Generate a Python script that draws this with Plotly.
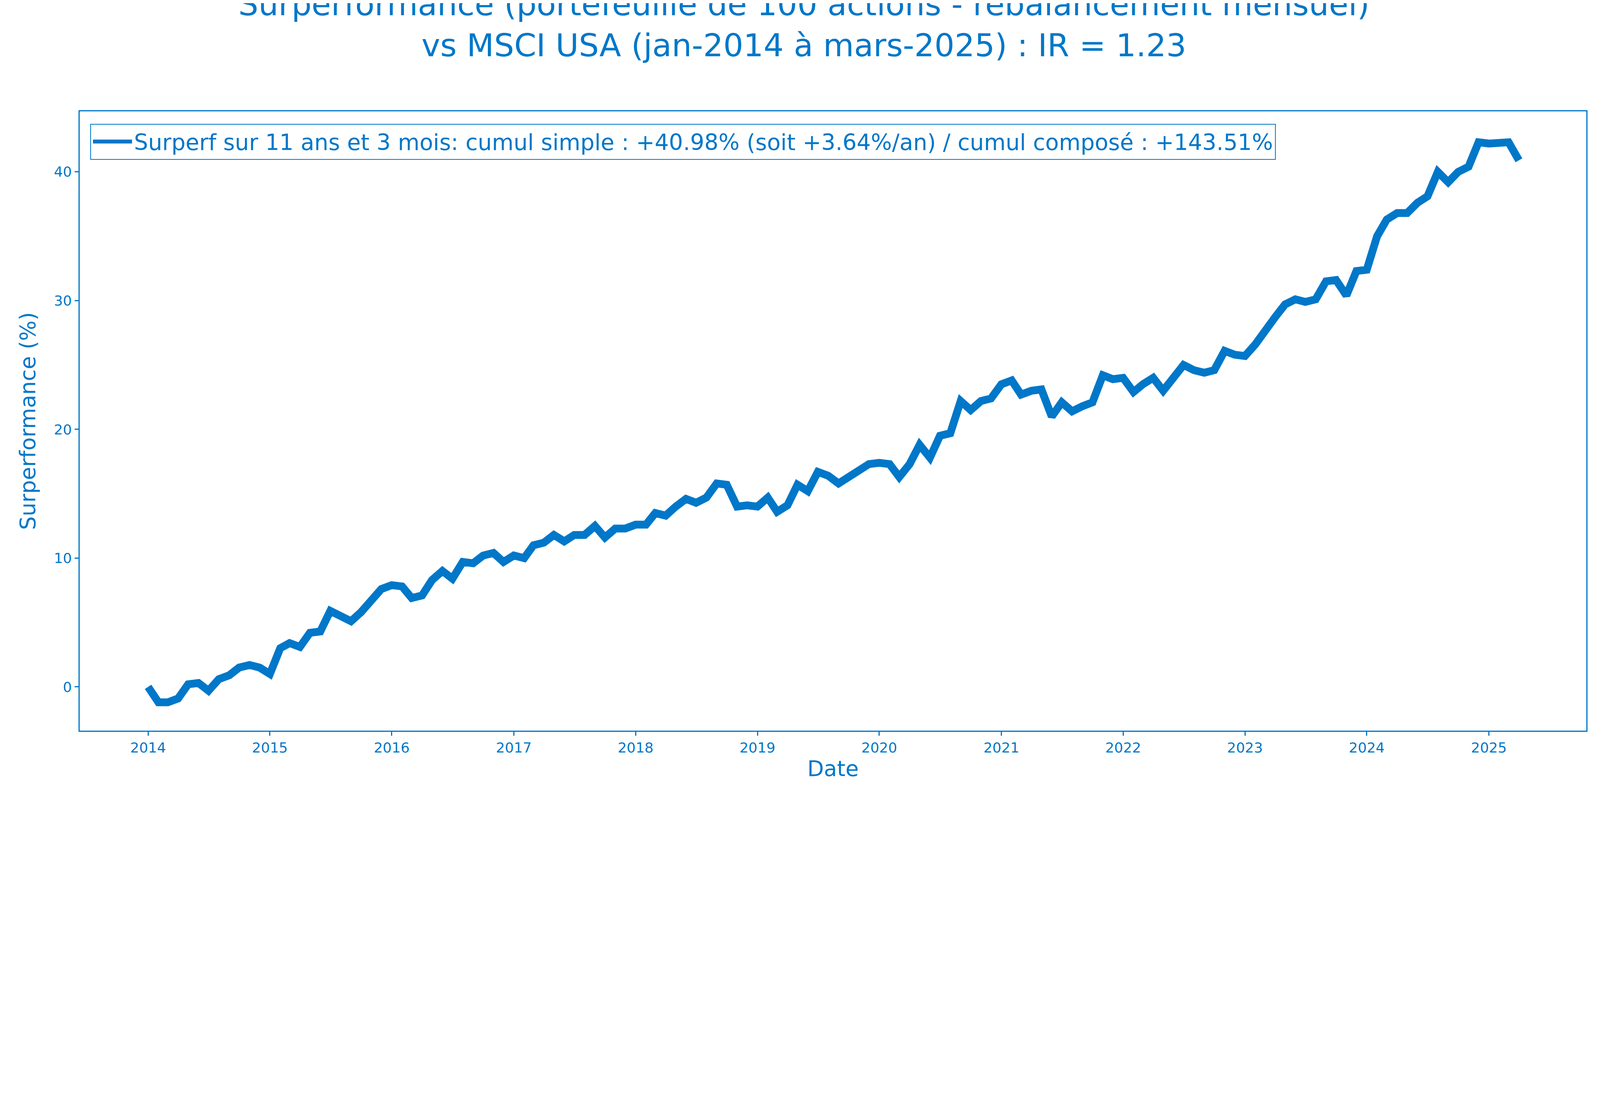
import pandas as pd
import plotly.graph_objects as go

BLUE = "#0077C8"

# Surperformance cumulée (%) - fin de mois, jan-2014 à avr-2025
surperf_2014 = [0.0, -1.2, -1.2, -0.9, 0.2, 0.3, -0.3, 0.6, 0.9, 1.5, 1.7, 1.5]
surperf_2015 = [1.0, 3.0, 3.4, 3.1, 4.2, 4.3, 5.9, 5.5, 5.1, 5.8, 6.7, 7.6]
surperf_2016 = [7.9, 7.8, 6.9, 7.1, 8.3, 9.0, 8.4, 9.7, 9.6, 10.2, 10.4, 9.7]
surperf_2017 = [10.2, 10.0, 11.0, 11.2, 11.8, 11.3, 11.8, 11.8, 12.5, 11.6, 12.3, 12.3]
surperf_2018 = [12.6, 12.6, 13.5, 13.3, 14.0, 14.6, 14.3, 14.7, 15.8, 15.7, 14.0, 14.1]
surperf_2019 = [14.0, 14.7, 13.6, 14.1, 15.7, 15.2, 16.7, 16.4, 15.8, 16.3, 16.9, 17.3]
surperf_2020 = [17.4, 17.3, 16.3, 17.3, 18.8, 17.8, 19.5, 19.7, 22.2, 21.5, 22.2, 22.4]
surperf_2021 = [23.5, 23.8, 22.7, 23.0, 23.1, 21.0, 22.1, 21.4, 21.8, 22.1, 24.2, 23.9]
surperf_2022 = [24.0, 22.9, 23.5, 24.0, 23.0, 24.0, 25.0, 24.6, 24.4, 24.6, 26.1, 25.8]
surperf_2023 = [25.7, 26.6, 27.7, 28.7, 29.7, 30.1, 29.9, 30.1, 31.5, 31.6, 30.4, 32.3]
surperf_2024 = [32.4, 35.0, 36.3, 36.8, 36.8, 37.6, 38.1, 40.0, 39.2, 40.0, 40.4, 42.3]
surperf_2025 = [42.2, 42.2, 42.3, 40.9]

values = (surperf_2014 + surperf_2015 + surperf_2016 + surperf_2017 + surperf_2018
          + surperf_2019 + surperf_2020 + surperf_2021 + surperf_2022 + surperf_2023
          + surperf_2024 + surperf_2025)
dates = pd.date_range("2014-01-01", periods=len(values), freq="MS")

year_ticks = [str(y) for y in range(2014, 2026)]

legend_label = ("Surperf sur 11 ans et 3 mois: cumul simple : +40.98% (soit +3.64%/an)"
                " / cumul composé : +143.51%")

FONT = "DejaVu Sans"

fig = go.Figure()
fig.add_trace(go.Scatter(
    x=dates, y=values, mode="lines", name=legend_label,
    line=dict(color=BLUE, width=20),
))

axis_common = dict(
    showgrid=False, zeroline=False,
    showline=True, linecolor=BLUE, linewidth=3, mirror=True,
    ticks="outside", ticklen=10, tickwidth=3, tickcolor=BLUE,
    tickfont=dict(family=FONT, size=36, color=BLUE),
)

fig.update_layout(
    width=4100, height=2050,
    paper_bgcolor="white", plot_bgcolor="white",
    margin=dict(l=196, r=47, t=277, b=188),
    title=dict(
        text="Surperformance (portefeuille de 100 actions - rebalancement mensuel)"
             "<br>vs MSCI USA (jan-2014 à mars-2025) : IR = 1.23",
        x=0.5, xanchor="center", y=0.985, yanchor="top",
        font=dict(family=FONT, size=81, color=BLUE),
    ),
    xaxis=dict(
        **axis_common,
        range=["2013-06-10", "2025-10-20"],
        tickvals=[f"{y}-01-01" for y in year_ticks], ticktext=year_ticks,
        title=dict(text="Date", font=dict(family=FONT, size=55, color=BLUE), standoff=15),
    ),
    yaxis=dict(
        **axis_common,
        range=[-3.4, 44.7],
        tickvals=[0, 10, 20, 30, 40],
        title=dict(text="Surperformance (%)", font=dict(family=FONT, size=55, color=BLUE), standoff=30),
    ),
    showlegend=True,
    legend=dict(
        x=0.007, y=0.98, xanchor="left", yanchor="top",
        bgcolor="white", bordercolor=BLUE, borderwidth=2,
        font=dict(family=FONT, size=57, color=BLUE),
        itemwidth=100,
    ),
)

fig.write_html("out.html")
